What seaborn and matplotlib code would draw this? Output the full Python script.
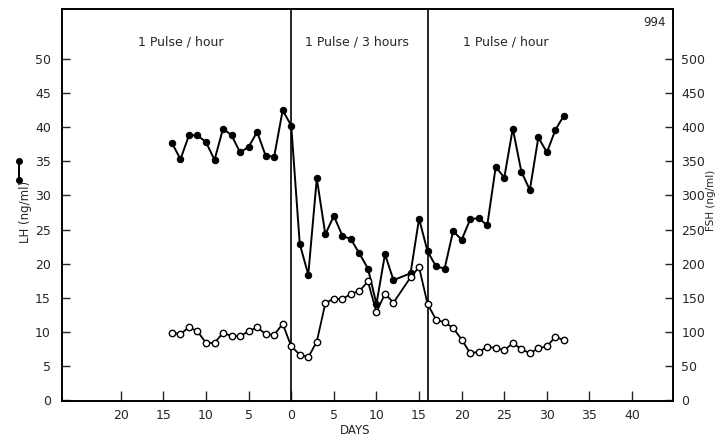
import matplotlib
matplotlib.use("Agg")
import matplotlib.pyplot as plt
from matplotlib.lines import Line2D
from matplotlib.ticker import FuncFormatter
import seaborn as sns
import pandas as pd

# ---- data ----
days = list(range(-14, 13)) + list(range(14, 33))
lh = [37.7, 35.3, 38.8, 38.8, 37.8, 35.2, 39.8, 38.8, 36.3, 37.1, 39.3, 35.8, 35.7, 42.5, 40.2,
      22.9, 18.4, 32.5, 24.3, 27.0, 24.1, 23.6, 21.5, 19.3, 14.1, 21.4, 17.6,
      18.6, 26.6, 21.8, 19.6, 19.3, 24.8, 23.5, 26.5, 26.7, 25.6, 34.2, 32.6, 39.8, 33.5,
      30.8, 38.5, 36.3, 39.6, 41.7]
fsh = [99, 97, 107, 101, 84, 84, 99, 94, 94, 101, 107, 97, 96, 112, 79,
       67, 63, 86, 142, 149, 148, 156, 160, 174, 129, 156, 143,
       180, 195, 141, 118, 114, 106, 89, 69, 71, 78, 77, 73, 84, 75, 69, 76, 79, 93, 88]
phase_bounds = [0, 16]
phase_labels = ["1 Pulse / hour", "1 Pulse / 3 hours", "1 Pulse / hour"]
phase_label_x = [-13.0, 7.7, 25.2]
x_ticks = list(range(-20, 41, 5))
lh_ticks = list(range(0, 51, 5))
fsh_ticks = list(range(0, 501, 50))

df = pd.DataFrame({"day": days, "lh": lh, "fsh": fsh})

sns.set_style("ticks")
plt.rcParams["font.family"] = ["DejaVu Sans"]

fig = plt.figure(figsize=(7.16, 4.37), dpi=100)
ax = fig.add_axes([62 / 716, 1 - 401 / 437, (673 - 62) / 716, (401 - 9) / 437])
ax2 = ax.twinx()

sns.lineplot(data=df, x="day", y="lh", ax=ax, color="black", lw=1.4,
             marker="o", markersize=4.6, markerfacecolor="black",
             markeredgecolor="black", zorder=3)
sns.lineplot(data=df, x="day", y="fsh", ax=ax2, color="black", lw=1.3,
             marker="o", markersize=4.6, markerfacecolor="white",
             markeredgecolor="black", markeredgewidth=1.0, zorder=3)

for b in phase_bounds:
    ax.axvline(b, color="black", lw=1.2, zorder=1)

ylo, yhi = -0.1, 57.3
ax.set_xlim(-26.9, 44.8)
ax.set_ylim(ylo, yhi)
ax2.set_ylim(ylo * 10, yhi * 10)

ax.set_xticks(x_ticks)
ax.xaxis.set_major_formatter(FuncFormatter(lambda v, p: f"{abs(int(v))}"))
ax.set_yticks(lh_ticks)
ax2.set_yticks(fsh_ticks)

ax.tick_params(axis="x", direction="in", length=7, width=1, labelsize=9, pad=6)
ax.tick_params(axis="y", direction="in", length=6, width=1, labelsize=9, pad=8)
ax2.tick_params(axis="y", direction="in", length=6, width=1, labelsize=9, pad=6)

for a in (ax, ax2):
    for s in a.spines.values():
        s.set_visible(True)
        s.set_linewidth(1.2)
        s.set_color("black")

ax.set_xlabel("")
ax.set_ylabel("")
ax2.set_ylabel("")

for lbl, xc in zip(phase_labels, phase_label_x):
    ax.text(xc, 52.5, lbl, ha="center", va="center", fontsize=9)

fig.text(666 / 716, 1 - 22 / 437, "994", ha="right", va="center", fontsize=8.5)
fig.text(355 / 716, 1 - 430 / 437, "DAYS", ha="center", va="center", fontsize=8.5)
fig.text(25 / 716, 1 - 212 / 437, "LH (ng/ml)", rotation=90, ha="center", va="center", fontsize=8.5)
fig.text(711 / 716, 1 - 200 / 437, "FSH (ng/ml)", rotation=90, ha="center", va="center", fontsize=7.5)

# small legend glyph beside the LH label
glyph = Line2D([19 / 716, 19 / 716], [1 - 161 / 437, 1 - 180 / 437], transform=fig.transFigure,
               color="black", lw=1.4, marker="o", markersize=4, markerfacecolor="black")
fig.add_artist(glyph)

fig.savefig("out.png", dpi=100)
